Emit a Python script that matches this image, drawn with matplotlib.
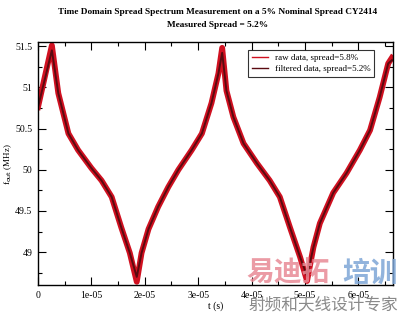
import numpy as np
import matplotlib
matplotlib.use("Agg")
import matplotlib.pyplot as plt
from matplotlib.ticker import MultipleLocator

# time in units of 1e-5 s, frequency in MHz
t_pts = [0.0, 0.26, 0.38, 0.57, 0.75, 1.0, 1.19, 1.38, 1.56, 1.72, 1.85,
         1.94, 2.07, 2.25, 2.44, 2.63, 2.88, 3.07, 3.25, 3.38, 3.45,
         3.53, 3.66, 3.85, 4.10, 4.34, 4.53, 4.72, 4.91, 5.04,
         5.16, 5.28, 5.53, 5.78, 6.03, 6.22, 6.40, 6.56, 6.63]
f_raw = [50.76, 51.51, 50.93, 50.44, 50.24, 50.02, 49.87, 49.67, 49.30, 48.99, 48.64,
         48.99, 49.28, 49.55, 49.79, 50.00, 50.24, 50.44, 50.81, 51.17, 51.48,
         50.96, 50.64, 50.32, 50.08, 49.87, 49.67, 49.30, 48.94, 48.65,
         49.06, 49.35, 49.72, 49.96, 50.24, 50.48, 50.88, 51.29, 51.36]
f_filt = [50.76, 51.45, 50.93, 50.44, 50.24, 50.02, 49.87, 49.67, 49.30, 48.99, 48.70,
          48.99, 49.28, 49.55, 49.79, 50.00, 50.24, 50.44, 50.81, 51.17, 51.42,
          50.96, 50.64, 50.32, 50.08, 49.87, 49.67, 49.30, 48.94, 48.71,
          49.06, 49.35, 49.72, 49.96, 50.24, 50.48, 50.88, 51.29, 51.33]

t = np.array(t_pts) * 1e-5

plt.rcParams['font.family'] = ['Liberation Serif', 'DejaVu Serif']

fig = plt.figure(figsize=(4.0, 3.14), dpi=100)
ax = fig.add_axes([0.095, 0.092, 0.8875, 0.774])

ax.plot(t, f_raw, color='#d01020', lw=4.2, solid_joinstyle='round',
        label='raw data, spread=5.8%')
ax.plot(t, f_filt, color='#5a0a10', lw=1.4, solid_joinstyle='round',
        label='filtered data, spread=5.2%')

ax.set_xlim(0, 6.65e-5)
ax.set_ylim(48.6, 51.55)
ax.xaxis.set_minor_locator(MultipleLocator(0.5e-5))
ax.yaxis.set_minor_locator(MultipleLocator(0.25))
ax.set_xticks([0, 1e-5, 2e-5, 3e-5, 4e-5, 5e-5, 6e-5])
ax.set_xticklabels(['0', '1e-05', '2e-05', '3e-05', '4e-05', '5e-05', '6e-05'])
ax.set_yticks([49, 49.5, 50, 50.5, 51, 51.5])
ax.set_yticklabels(['49', '49.5', '50', '50.5', '51', '51.5'])
ax.tick_params(which='both', direction='in', top=True, right=True,
               labelsize=7, width=0.8)
ax.tick_params(which='major', length=6, pad=4)
ax.tick_params(which='minor', length=3)
for s in ax.spines.values():
    s.set_linewidth(1.0)

ax.set_xlabel('t (s)', fontsize=7, labelpad=1)
ax.set_ylabel(r'f$_{\rm out}$ (MHz)', fontsize=6.5, labelpad=1)

fig.text(0.543, 0.962, 'Time Domain Spread Spectrum Measurement on a 5% Nominal Spread CY2414',
         ha='center', va='center', fontsize=6.7, fontweight='bold')
fig.text(0.543, 0.921, 'Measured Spread = 5.2%', ha='center', va='center',
         fontsize=6.7, fontweight='bold')

leg = ax.legend(loc='upper right', bbox_to_anchor=(0.96, 0.985), fontsize=6.5,
                frameon=True, fancybox=False, handlelength=1.8,
                borderpad=0.4, labelspacing=0.3)
leg.get_frame().set_edgecolor('black')
leg.get_frame().set_linewidth(0.8)
for h in leg.get_lines():
    h.set_linewidth(1.0)

# watermark
cjk = ['Noto Sans CJK SC', 'DejaVu Sans']
fig.text(0.615, 0.128, '易迪拓', fontsize=20, fontweight='bold', family=cjk,
         color='#e88a95', alpha=0.85, ha='left', va='center')
fig.text(0.995, 0.128, '培训', fontsize=20, fontweight='bold', family=cjk,
         color='#7ea6d6', alpha=0.85, ha='right', va='center')
fig.text(0.995, 0.03, '射频和天线设计专家', fontsize=12, family=cjk,
         color='#8a8a8a', ha='right', va='center')

fig.savefig('out.png', dpi=100)
